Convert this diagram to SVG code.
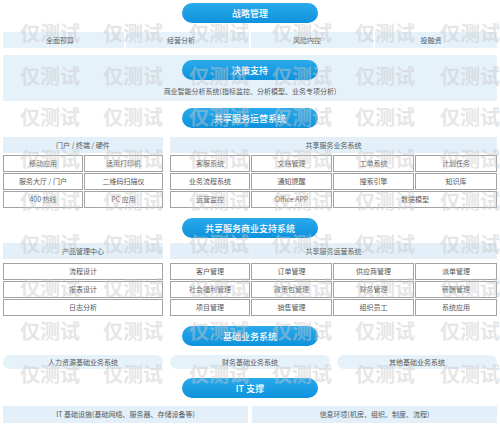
<svg xmlns="http://www.w3.org/2000/svg" width="500" height="426" viewBox="0 0 500 426">
<defs>
<linearGradient id="pg" x1="0" y1="0" x2="0" y2="1">
<stop offset="0" stop-color="#2aaaec"/>
<stop offset="1" stop-color="#0e92dc"/>
</linearGradient>
<style>
text{font-family:"Noto Sans CJK SC","Noto Sans",sans-serif;}
.pill{fill:url(#pg);}
.pt{fill:#ffffff;font-size:9px;text-anchor:middle;font-weight:500;}
.band{fill:#e6f2fa;}
.hdr{fill:#e3f0f9;}
.cell{fill:#ffffff;stroke:#a3a3a3;stroke-width:1;}
.t{fill:#555555;font-size:7px;text-anchor:middle;}
.wm{fill:#c8c8c8;opacity:0.45;font-size:20px;font-weight:700;text-anchor:middle;}
</style>
</defs>
<rect width="500" height="426" fill="#ffffff"/>

<g id="strategy">
<rect class="band" x="3" y="32" width="121" height="16"/>
<rect class="band" x="126" y="32" width="123" height="16"/>
<rect class="band" x="251" y="32" width="122" height="16"/>
<rect class="band" x="375" y="32" width="122" height="16"/>
<text class="t" x="60" y="42.5">全面预算</text>
<text class="t" x="181" y="42.5">经营分析</text>
<text class="t" x="307" y="42.5">风险内控</text>
<text class="t" x="431" y="42.5">投融资</text>
<rect class="pill" x="182" y="3" width="136" height="20" rx="10"/>
<text class="pt" x="250" y="16.5">战略管理</text>
</g>

<g id="decision">
<rect class="band" x="3" y="55" width="494" height="46"/>
<rect class="pill" x="182" y="60" width="136" height="20" rx="10"/>
<text class="pt" x="250" y="73.5">决策支持</text>
<text class="t" x="250" y="94">商业智能分析系统(指标监控、分析模型、业务专项分析)</text>
</g>

<g id="ops">
<rect class="pill" x="182" y="108" width="136" height="20" rx="10"/>
<text class="pt" x="250" y="121.5">共享服务运营系统</text>
</g>

<g id="portal">
<rect class="hdr" x="3" y="137" width="160" height="16"/>
<text class="t" x="83" y="147.5">门户 / 终端 / 硬件</text>
<rect class="cell" x="3.5" y="155.5" width="79" height="16"/>
<rect class="cell" x="84.5" y="155.5" width="78" height="16"/>
<rect class="cell" x="3.5" y="173.5" width="79" height="16"/>
<rect class="cell" x="84.5" y="173.5" width="78" height="16"/>
<rect class="cell" x="3.5" y="191.5" width="79" height="16"/>
<rect class="cell" x="84.5" y="191.5" width="78" height="16"/>
<text class="t" x="43" y="166">移动应用</text>
<text class="t" x="123.5" y="166">适用打印机</text>
<text class="t" x="43" y="184">服务大厅 / 门户</text>
<text class="t" x="123.5" y="184">二维码扫描仪</text>
<text class="t" x="43" y="202">400 热线</text>
<text class="t" x="123.5" y="202">PC 应用</text>
</g>

<g id="bizsys">
<rect class="hdr" x="170" y="137" width="327" height="16"/>
<text class="t" x="333.5" y="147.5">共享服务业务系统</text>
<rect class="cell" x="170.5" y="155.5" width="79" height="16"/>
<rect class="cell" x="251.5" y="155.5" width="80" height="16"/>
<rect class="cell" x="333.5" y="155.5" width="80" height="16"/>
<rect class="cell" x="415.5" y="155.5" width="81" height="16"/>
<rect class="cell" x="170.5" y="173.5" width="79" height="16"/>
<rect class="cell" x="251.5" y="173.5" width="80" height="16"/>
<rect class="cell" x="333.5" y="173.5" width="80" height="16"/>
<rect class="cell" x="415.5" y="173.5" width="81" height="16"/>
<rect class="cell" x="170.5" y="191.5" width="79" height="16"/>
<rect class="cell" x="251.5" y="191.5" width="80" height="16"/>
<rect class="cell" x="333.5" y="191.5" width="163" height="16"/>
<text class="t" x="210" y="166">客服系统</text>
<text class="t" x="291.5" y="166">文档管理</text>
<text class="t" x="373.5" y="166">工单系统</text>
<text class="t" x="456" y="166">计划任务</text>
<text class="t" x="210" y="184">业务流程系统</text>
<text class="t" x="291.5" y="184">通知提醒</text>
<text class="t" x="373.5" y="184">搜索引擎</text>
<text class="t" x="456" y="184">知识库</text>
<text class="t" x="210" y="202">运营监控</text>
<text class="t" x="291.5" y="202">Office APP</text>
<text class="t" x="415" y="202">数据模型</text>
</g>

<g id="support">
<rect class="pill" x="182" y="218" width="136" height="20" rx="10"/>
<text class="pt" x="250" y="231.5">共享服务商业支持系统</text>
</g>

<g id="product">
<rect class="hdr" x="3" y="243" width="160" height="16"/>
<text class="t" x="83" y="253.5">产品管理中心</text>
<rect class="cell" x="3.5" y="263.5" width="159" height="16"/>
<rect class="cell" x="3.5" y="281.5" width="159" height="16"/>
<rect class="cell" x="3.5" y="299.5" width="159" height="16"/>
<text class="t" x="83" y="274">流程设计</text>
<text class="t" x="83" y="292">报表设计</text>
<text class="t" x="83" y="310">日志分析</text>
</g>

<g id="opsys">
<rect class="hdr" x="170" y="243" width="327" height="16"/>
<text class="t" x="333.5" y="253.5">共享服务运营系统</text>
<rect class="cell" x="170.5" y="263.5" width="79" height="16"/>
<rect class="cell" x="251.5" y="263.5" width="80" height="16"/>
<rect class="cell" x="333.5" y="263.5" width="80" height="16"/>
<rect class="cell" x="415.5" y="263.5" width="81" height="16"/>
<rect class="cell" x="170.5" y="281.5" width="79" height="16"/>
<rect class="cell" x="251.5" y="281.5" width="80" height="16"/>
<rect class="cell" x="333.5" y="281.5" width="80" height="16"/>
<rect class="cell" x="415.5" y="281.5" width="81" height="16"/>
<rect class="cell" x="170.5" y="299.5" width="79" height="16"/>
<rect class="cell" x="251.5" y="299.5" width="80" height="16"/>
<rect class="cell" x="333.5" y="299.5" width="80" height="16"/>
<rect class="cell" x="415.5" y="299.5" width="81" height="16"/>
<text class="t" x="210" y="274">客户管理</text>
<text class="t" x="291.5" y="274">订单管理</text>
<text class="t" x="373.5" y="274">供应商管理</text>
<text class="t" x="456" y="274">派单管理</text>
<text class="t" x="210" y="292">社会福利管理</text>
<text class="t" x="291.5" y="292">政策包管理</text>
<text class="t" x="373.5" y="292">财务管理</text>
<text class="t" x="456" y="292">薪酬管理</text>
<text class="t" x="210" y="310">项目管理</text>
<text class="t" x="291.5" y="310">销售管理</text>
<text class="t" x="373.5" y="310">组织员工</text>
<text class="t" x="456" y="310">系统应用</text>
</g>

<g id="basic">
<rect class="pill" x="182" y="326" width="136" height="20" rx="10"/>
<text class="pt" x="250" y="339.5">基础业务系统</text>
<rect class="band" x="3" y="355" width="160" height="14" rx="7"/>
<rect class="band" x="170" y="355" width="160" height="14" rx="7"/>
<rect class="band" x="337" y="355" width="160" height="14" rx="7"/>
<text class="t" x="83" y="364.5">人力资源基础业务系统</text>
<text class="t" x="250" y="364.5">财务基础业务系统</text>
<text class="t" x="417" y="364.5">其他基础业务系统</text>
</g>

<g id="it">
<rect class="pill" x="182" y="378" width="136" height="20" rx="10"/>
<text class="pt" x="250" y="391.5">IT 支撑</text>
<rect class="hdr" x="3" y="406" width="245" height="17"/>
<rect class="hdr" x="252" y="406" width="245" height="17"/>
<text class="t" x="125.5" y="417">IT 基础设施(基础网络、服务器、存储设备等)</text>
<text class="t" x="374.5" y="417">信息环境(机房、组织、制度、流程)</text>
</g>

<g id="watermark">
<text class="wm" x="50" y="41">仅测试</text><text class="wm" x="133" y="41">仅测试</text><text class="wm" x="219" y="41">仅测试</text><text class="wm" x="302" y="41">仅测试</text><text class="wm" x="385" y="41">仅测试</text><text class="wm" x="470" y="41">仅测试</text>
<text class="wm" x="50" y="84">仅测试</text><text class="wm" x="133" y="84">仅测试</text><text class="wm" x="219" y="84">仅测试</text><text class="wm" x="302" y="84">仅测试</text><text class="wm" x="385" y="84">仅测试</text><text class="wm" x="470" y="84">仅测试</text>
<text class="wm" x="50" y="125">仅测试</text><text class="wm" x="133" y="125">仅测试</text><text class="wm" x="219" y="125">仅测试</text><text class="wm" x="302" y="125">仅测试</text><text class="wm" x="385" y="125">仅测试</text><text class="wm" x="470" y="125">仅测试</text>
<text class="wm" x="50" y="167">仅测试</text><text class="wm" x="133" y="167">仅测试</text><text class="wm" x="219" y="167">仅测试</text><text class="wm" x="302" y="167">仅测试</text><text class="wm" x="385" y="167">仅测试</text><text class="wm" x="470" y="167">仅测试</text>
<text class="wm" x="50" y="209">仅测试</text><text class="wm" x="133" y="209">仅测试</text><text class="wm" x="219" y="209">仅测试</text><text class="wm" x="302" y="209">仅测试</text><text class="wm" x="385" y="209">仅测试</text><text class="wm" x="470" y="209">仅测试</text>
<text class="wm" x="50" y="252">仅测试</text><text class="wm" x="133" y="252">仅测试</text><text class="wm" x="219" y="252">仅测试</text><text class="wm" x="302" y="252">仅测试</text><text class="wm" x="385" y="252">仅测试</text><text class="wm" x="470" y="252">仅测试</text>
<text class="wm" x="50" y="296">仅测试</text><text class="wm" x="133" y="296">仅测试</text><text class="wm" x="219" y="296">仅测试</text><text class="wm" x="302" y="296">仅测试</text><text class="wm" x="385" y="296">仅测试</text><text class="wm" x="470" y="296">仅测试</text>
<text class="wm" x="50" y="339">仅测试</text><text class="wm" x="133" y="339">仅测试</text><text class="wm" x="219" y="339">仅测试</text><text class="wm" x="302" y="339">仅测试</text><text class="wm" x="385" y="339">仅测试</text><text class="wm" x="470" y="339">仅测试</text>
<text class="wm" x="50" y="382">仅测试</text><text class="wm" x="133" y="382">仅测试</text><text class="wm" x="219" y="382">仅测试</text><text class="wm" x="302" y="382">仅测试</text><text class="wm" x="385" y="382">仅测试</text><text class="wm" x="470" y="382">仅测试</text>
</g>
</svg>
